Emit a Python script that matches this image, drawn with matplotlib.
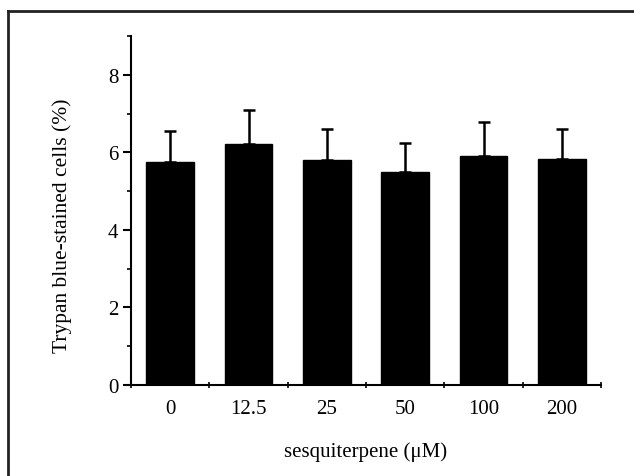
import numpy as np
import matplotlib
matplotlib.use("Agg")
import matplotlib.pyplot as plt
from matplotlib.lines import Line2D

plt.rcParams["font.family"] = ["Liberation Serif", "DejaVu Serif"]

# data
doses = ["0", "12.5", "25", "50", "100", "200"]
cells = [5.76, 6.22, 5.81, 5.49, 5.90, 5.82]
err_up = [0.79, 0.88, 0.80, 0.75, 0.87, 0.79]

x = np.arange(len(doses))

fig = plt.figure(figsize=(6.34, 4.77), dpi=100)
ax = fig.add_axes([0.2066, 0.1908, 0.7415, 0.7316])

ax.bar(x, cells, width=0.61, color="black", edgecolor="black")
ax.errorbar(x, cells, yerr=[np.zeros(len(x)), err_up], fmt="none",
            ecolor="black", elinewidth=1.8, capsize=4, capthick=1.8)

ax.set_xlim(-0.5, 5.5)
ax.set_ylim(0, 9)

ax.set_yticks([0, 2, 4, 6, 8])
ax.set_yticks([1, 3, 5, 7, 9], minor=True)
ax.set_xticks(x)
ax.set_xticklabels(doses)
ax.set_xticks(np.arange(-0.5, 6.0, 1.0), minor=True)

ax.tick_params(axis="y", which="major", direction="out", length=6, width=1.5,
               labelsize=15, pad=3)
ax.tick_params(axis="y", which="minor", direction="out", length=3, width=1.2)
ax.tick_params(axis="x", which="major", length=0, labelsize=15, pad=10)
ax.tick_params(axis="x", which="minor", direction="inout", length=5, width=1.2)

for s in ["top", "right"]:
    ax.spines[s].set_visible(False)
for s in ["left", "bottom"]:
    ax.spines[s].set_linewidth(1.5)

ax.set_ylabel("Trypan blue-stained cells (%)", fontsize=15.5, va="center")
ax.yaxis.set_label_coords(-0.147, 0.46)
ax.set_xlabel("sesquiterpene (\u03bcM)", fontsize=15, labelpad=17)

# outer frame (cropped at right and bottom)
fig.add_artist(Line2D([8 / 634, 8 / 634], [0, 1 - 12 / 477],
                      transform=fig.transFigure, color="#222222", lw=2))
fig.add_artist(Line2D([8 / 634, 1], [1 - 12 / 477, 1 - 12 / 477],
                      transform=fig.transFigure, color="#222222", lw=2))

fig.savefig("out.png", dpi=100)
